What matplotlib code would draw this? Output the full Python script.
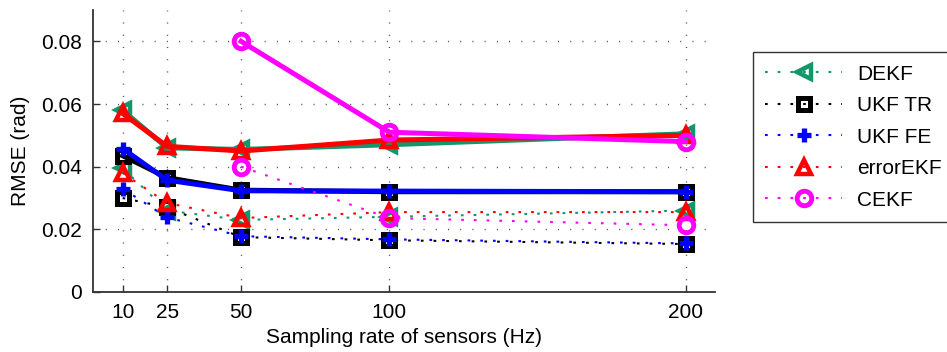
import matplotlib
matplotlib.use("Agg")
import matplotlib.pyplot as plt

plt.rcParams['font.family'] = ['Liberation Sans', 'DejaVu Sans']

rates = [10, 25, 50, 100, 200]
rates_cekf = [50, 100, 200]

# solid (thick) series
dekf_solid = [0.058, 0.046, 0.0455, 0.047, 0.0505]
ukftr_solid = [0.0435, 0.0365, 0.0325, 0.032, 0.032]
ukffe_solid = [0.0458, 0.0357, 0.0323, 0.0322, 0.032]
errekf_solid = [0.057, 0.0465, 0.045, 0.0485, 0.050]
cekf_solid = [0.080, 0.051, 0.048]

# dotted series
dekf_dot = [0.0395, 0.026, 0.023, 0.024, 0.026]
ukftr_dot = [0.030, 0.027, 0.0175, 0.0165, 0.0153]
ukffe_dot = [0.033, 0.0238, 0.0178, 0.0168, 0.0155]
errekf_dot = [0.038, 0.0284, 0.0236, 0.0255, 0.0255]
cekf_dot = [0.040, 0.0236, 0.0213]

labels = ['DEKF', 'UKF TR', 'UKF FE', 'errorEKF', 'CEKF']
colors = ['#13966a', '#000000', '#0000ff', '#ff0000', '#ff00ff']
markers = ['<', 's', '+', '^', 'o']
msizes = [10.5, 9, 10, 10.5, 10.5]
mews = [3.2, 3.6, 3.8, 3.2, 3.5]

series = [
    (rates, dekf_solid, rates, dekf_dot),
    (rates, ukftr_solid, rates, ukftr_dot),
    (rates, ukffe_solid, rates, ukffe_dot),
    (rates, errekf_solid, rates, errekf_dot),
    (rates_cekf, cekf_solid, rates_cekf, cekf_dot),
]

fig = plt.figure(figsize=(9.47, 3.52), dpi=100)
ax = fig.add_axes([0.0982, 0.1705, 0.657, 0.801])

handles = []
for (xs, ys, xd, yd), lab, c, m, ms, mw in zip(series, labels, colors, markers, msizes, mews):
    ax.plot(xs, ys, '-', color=c, lw=3.6, marker=m, ms=ms, mfc='none',
            mec=c, mew=mw)
    h, = ax.plot(xd, yd, linestyle=(0, (1.3, 4.8)), color=c, lw=1.5, marker=m,
                 ms=ms, mfc='none', mec=c, mew=mw, label=lab)
    handles.append(h)

ax.set_xlim(0, 210)
ax.set_ylim(0, 0.09)
ax.set_xticks(rates)
ax.set_xticklabels([str(r) for r in rates])
ax.set_yticks([0, 0.02, 0.04, 0.06, 0.08])
ax.set_yticklabels(['0', '0.02', '0.04', '0.06', '0.08'])
ax.tick_params(direction='in', length=5, width=1, colors='#333333',
               labelcolor='black', labelsize=15, pad=8)
ax.grid(True, color='#555555', linestyle=(0, (0.8, 8)), linewidth=1.0)
for s in ['top', 'right']:
    ax.spines[s].set_visible(False)
for s in ['left', 'bottom']:
    ax.spines[s].set_color('#333333')
    ax.spines[s].set_linewidth(1.3)

ax.set_xlabel('Sampling rate of sensors (Hz)', fontsize=15, labelpad=4)
ax.set_ylabel('RMSE (rad)', fontsize=15, labelpad=8)

leg = ax.legend(handles=handles, loc='center left', bbox_to_anchor=(0.795, 0.61),
                bbox_transform=fig.transFigure, fontsize=15, frameon=True,
                fancybox=False, edgecolor='black', handlelength=3.7,
                handletextpad=0.7, labelspacing=0.6, borderpad=0.6,
                borderaxespad=0)
leg.get_frame().set_linewidth(1.0)

fig.savefig('out.png', dpi=100)
